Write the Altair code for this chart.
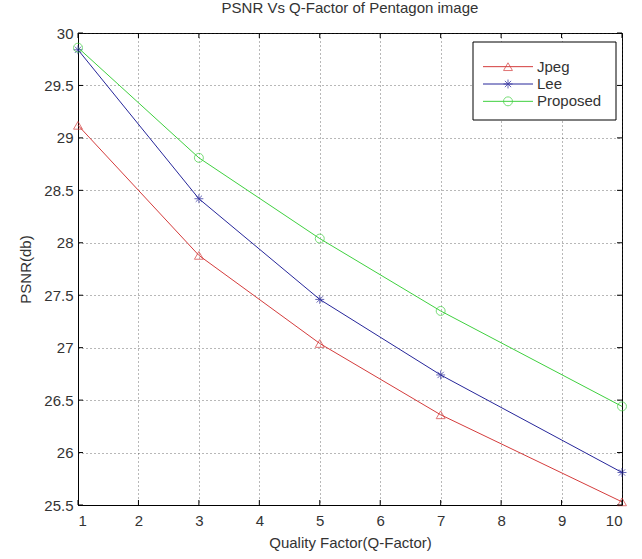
import altair as alt
import pandas as pd

# ---- data ----
q_factor = [1, 3, 5, 7, 10]
jpeg = [29.12, 27.88, 27.04, 26.36, 25.53]
lee = [29.84, 28.42, 27.46, 26.74, 25.81]
proposed = [29.86, 28.81, 28.04, 27.35, 26.44]
series_names = ["Jpeg", "Lee", "Proposed"]
x_ticks = [1, 2, 3, 4, 5, 6, 7, 8, 9, 10]
y_ticks = [25.5, 26, 26.5, 27, 27.5, 28, 28.5, 29, 29.5, 30]

colors = ["#d43c3c", "#26269a", "#3fd03f"]
asterisk = "M-1,0L1,0M0,-1L0,1M-0.7,-0.7L0.7,0.7M-0.7,0.7L0.7,-0.7"
shapes = ["triangle-up", asterisk, "circle"]

rows = []
for name, vals in zip(series_names, [jpeg, lee, proposed]):
    for qv, v in zip(q_factor, vals):
        rows.append({"series": name, "q": qv, "psnr": v})
df = pd.DataFrame(rows)

W, H = 544, 472
FONT = "Liberation Sans"
FS = 15

xscale = alt.Scale(domain=[1, 10], nice=False, zero=False)
yscale = alt.Scale(domain=[25.5, 30], nice=False, zero=False)
cscale = alt.Scale(domain=series_names, range=colors)
sscale = alt.Scale(domain=series_names, range=shapes)

x_axis = alt.Axis(values=x_ticks, title="Quality Factor(Q-Factor)", grid=True,
                  tickSize=0, labelPadding=8, titlePadding=7, format="d")
y_axis = alt.Axis(values=y_ticks, title="PSNR(db)", grid=True, tickSize=0,
                  labelPadding=5, titlePadding=10, format="~g")

base = alt.Chart(df).encode(
    x=alt.X("q:Q", scale=xscale, axis=x_axis),
    y=alt.Y("psnr:Q", scale=yscale, axis=y_axis),
    color=alt.Color("series:N", scale=cscale, legend=None),
)
lines = base.mark_line(strokeWidth=1)
points = base.mark_point(filled=False, size=80, strokeWidth=1).encode(
    shape=alt.Shape("series:N", scale=sscale, legend=None)
)

xt = pd.DataFrame({"q": x_ticks})
yt = pd.DataFrame({"psnr": y_ticks})
tick_xb = alt.Chart(xt).mark_rule(color="black").encode(
    x=alt.X("q:Q", scale=xscale, axis=x_axis), y=alt.value(H), y2=alt.value(H - 5))
tick_xt = alt.Chart(xt).mark_rule(color="black").encode(
    x=alt.X("q:Q", scale=xscale, axis=x_axis), y=alt.value(0), y2=alt.value(5))
tick_yl = alt.Chart(yt).mark_rule(color="black").encode(
    y=alt.Y("psnr:Q", scale=yscale, axis=y_axis), x=alt.value(0), x2=alt.value(5))
tick_yr = alt.Chart(yt).mark_rule(color="black").encode(
    y=alt.Y("psnr:Q", scale=yscale, axis=y_axis), x=alt.value(W - 5), x2=alt.value(W))

main = alt.layer(lines, points, tick_xb, tick_xt, tick_yl, tick_yr)

# ---- legend drawn manually (MATLAB style) ----
leg_df = pd.DataFrame({"series": series_names})
lscale = alt.Scale(domain=series_names, range=[25, 77], padding=0)
box = alt.Chart(pd.DataFrame({"a": [0]})).mark_rect(
    fill="white", stroke="black", strokeWidth=1
).encode(x=alt.value(395), x2=alt.value(538), y=alt.value(9), y2=alt.value(87))
lyenc = alt.Y("series:N", scale=lscale, axis=None)
leg_line = alt.Chart(leg_df).mark_rule(strokeWidth=1).encode(
    y=lyenc, x=alt.value(405), x2=alt.value(455),
    color=alt.Color("series:N", scale=cscale, legend=None))
leg_pt = alt.Chart(leg_df).mark_point(filled=False, size=80, strokeWidth=1).encode(
    y=lyenc, x=alt.value(430),
    color=alt.Color("series:N", scale=cscale, legend=None),
    shape=alt.Shape("series:N", scale=sscale, legend=None))
leg_txt = alt.Chart(leg_df).mark_text(
    align="left", baseline="middle", fontSize=FS, font=FONT, color="#333"
).encode(y=lyenc, x=alt.value(459), text="series:N")
legend = alt.layer(box, leg_line, leg_pt, leg_txt)

chart = alt.layer(main, legend).resolve_scale(y="independent").properties(
    width=W, height=H,
    title=alt.Title("PSNR Vs Q-Factor of Pentagon image", fontSize=FS, font=FONT,
                    fontWeight="normal", color="#333", anchor="middle", offset=10),
    autosize=alt.AutoSizeParams(type="none"),
    padding={"left": 78, "top": 33, "right": 20, "bottom": 54},
    background="white",
).configure_view(
    stroke="black", strokeWidth=1
).configure_axis(
    domainColor="black", labelFont=FONT, titleFont=FONT, labelFontSize=FS,
    titleFontSize=FS, labelColor="#333", titleColor="#333", titleFontWeight="normal",
    gridColor="#333", gridDash=[1, 3], gridOpacity=0.7, gridWidth=1,
)

chart.save("out.html", embed_options={"renderer": "svg", "actions": False})
